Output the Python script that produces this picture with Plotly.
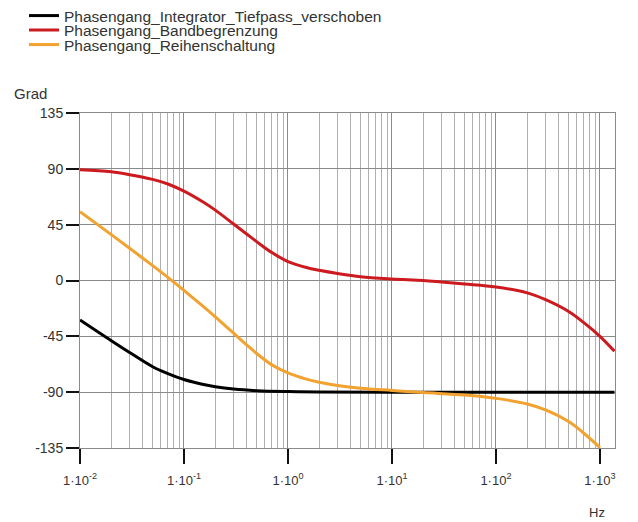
import plotly.graph_objects as go

# Frequencies (Hz) and phase values (degrees)
freq_black = [0.01, 0.02, 0.03, 0.05, 0.07, 0.1, 0.15, 0.2, 0.3, 0.5, 1, 2, 10, 100, 1000, 1380]
phase_black = [-31.8, -48.5, -58.0, -69.5, -75.0, -79.8, -83.6, -85.6, -87.5, -88.8, -89.5, -89.8, -90, -90, -90, -90]

freq_red = [0.01, 0.02, 0.03, 0.05, 0.07, 0.1, 0.15, 0.2, 0.3, 0.4, 0.5, 0.7, 1, 1.5, 2, 3, 5, 10, 20, 30, 50, 100, 200, 300, 500, 700, 1000, 1380]
phase_red = [89.3, 87.6, 85.3, 81.5, 77.8, 72.0, 63.6, 56.7, 45.5, 37.5, 31.3, 22.5, 15.3, 10.5, 8.2, 5.6, 3.0, 1.2, 0.0, -1.2, -2.8, -5.2, -10.0, -15.5, -25.0, -34.0, -45.0, -57.0]

freq_orange = [0.01, 0.02, 0.03, 0.05, 0.07, 0.1, 0.15, 0.2, 0.3, 0.4, 0.5, 0.7, 1, 1.5, 2, 3, 5, 10, 20, 50, 100, 200, 300, 500, 700, 1000]
phase_orange = [55.4, 37.0, 26.0, 12.0, 2.5, -8.0, -20.3, -29.3, -42.5, -51.8, -58.8, -68.0, -74.5, -79.5, -82.0, -84.6, -86.8, -88.6, -90.3, -92.3, -95.0, -99.5, -104.3, -113.7, -123.1, -134.6]

series_names = ["Phasengang_Integrator_Tiefpass_verschoben",
                "Phasengang_Bandbegrenzung",
                "Phasengang_Reihenschaltung"]
series_colors = ["#000000", "#cc1a1e", "#f2a22e"]

x_tickvals = [0.01, 0.1, 1, 10, 100, 1000]
x_ticktext = ["1·10<sup>-2</sup>", "1·10<sup>-1</sup>", "1·10<sup>0</sup>",
              "1·10<sup>1</sup>", "1·10<sup>2</sup>", "1·10<sup>3</sup>"]
y_tickvals = [-135, -90, -45, 0, 45, 90, 135]
y_ticktext = ["-135", "-90", "-45", "0", "45", "90", "135"]

FONT = "Liberation Sans, Arial, sans-serif"
TXT = "#333333"

fig = go.Figure()
data = [(freq_black, phase_black), (freq_red, phase_red), (freq_orange, phase_orange)]
legend_ids = ["legend", "legend2", "legend3"]
for (fx, fy), name, col, lid in zip(data, series_names, series_colors, legend_ids):
    fig.add_trace(go.Scatter(x=fx, y=fy, mode="lines", name=name,
                             line=dict(color=col, width=3, shape="spline", smoothing=1.0),
                             legend=lid))

# page has an 8px body margin; the figure is sized/offset so the page matches 638x522
OFF = 8
W, H = 638 - OFF, 522 - OFF
ml, mt = 80 - OFF, 113 - OFF
mr = W - (615 - OFF)
mb = H - (448 - OFF)
pw, ph = W - ml - mr, H - mt - mb

def px(page_x):
    return (page_x - OFF - ml) / pw

def py(page_y):
    return (H - mb - (page_y - OFF)) / ph

legend_rows = [16, 30.5, 45]
leg_common = dict(x=px(24), xanchor="left", yanchor="middle", bgcolor="rgba(0,0,0,0)",
                  font=dict(family=FONT, size=15.5, color=TXT), borderwidth=0)

fig.update_layout(
    width=W, height=H,
    margin=dict(l=ml, r=mr, t=mt, b=mb, autoexpand=False),
    paper_bgcolor="white", plot_bgcolor="white",
    showlegend=True,
    legend=dict(y=py(legend_rows[0]), **leg_common),
    legend2=dict(y=py(legend_rows[1]), **leg_common),
    legend3=dict(y=py(legend_rows[2]), **leg_common),
    font=dict(family=FONT, size=13, color=TXT),
    xaxis=dict(type="log", range=[-2, 3.145], tickmode="array",
               tickvals=x_tickvals, ticktext=x_ticktext,
               ticks="outside", ticklen=15, tickwidth=1.5, tickcolor="#111111",
               ticklabelstandoff=5,
               showgrid=True, gridcolor="#8a8a8a", gridwidth=1.2,
               minor=dict(dtick="D1", showgrid=True, gridcolor="#b0b0b0", gridwidth=1, ticks=""),
               showline=True, linecolor="#8a8a8a", linewidth=1, mirror=True,
               zeroline=False, tickfont=dict(size=13, color=TXT)),
    yaxis=dict(range=[-135, 135], tickmode="array", tickvals=y_tickvals, ticktext=y_ticktext,
               ticks="outside", ticklen=13, tickwidth=1.5, tickcolor="#111111",
               showgrid=True, gridcolor="#8a8a8a", gridwidth=1,
               showline=True, linecolor="#8a8a8a", linewidth=1, mirror=True,
               zeroline=False, tickfont=dict(size=14, color=TXT)),
    annotations=[
        dict(text="Grad", x=px(12), y=py(94), xref="paper", yref="paper",
             xanchor="left", yanchor="middle", showarrow=False,
             font=dict(family=FONT, size=15, color=TXT)),
        dict(text="Hz", x=px(597), y=py(512), xref="paper", yref="paper",
             xanchor="center", yanchor="middle", showarrow=False,
             font=dict(family=FONT, size=13, color=TXT)),
    ],
)

fig.write_html("out.html")
